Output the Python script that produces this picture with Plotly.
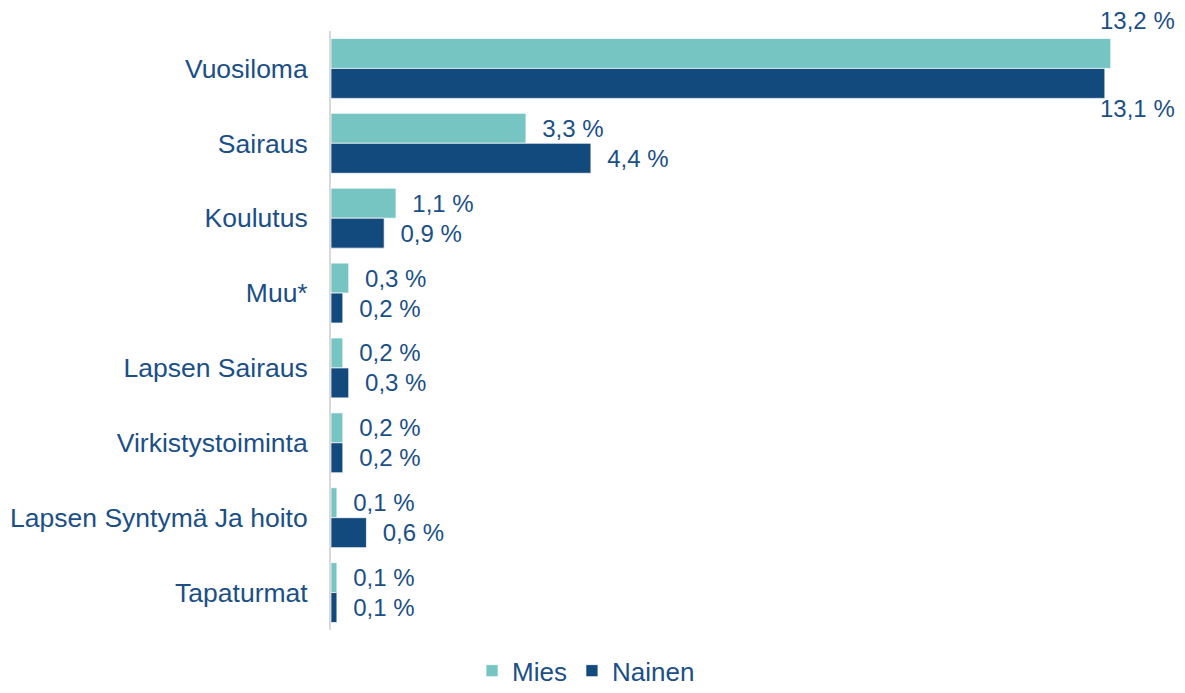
import plotly.graph_objects as go

categories = ["Vuosiloma", "Sairaus", "Koulutus", "Muu*", "Lapsen Sairaus",
              "Virkistystoiminta", "Lapsen Syntymä Ja hoito", "Tapaturmat"]
mies = [13.2, 3.3, 1.1, 0.3, 0.2, 0.2, 0.1, 0.1]
nainen = [13.1, 4.4, 0.9, 0.2, 0.3, 0.2, 0.6, 0.1]

C_MIES = "#76C5C3"
C_NAINEN = "#134A7E"
C_TEXT = "#1B4F86"
FONT = "Liberation Sans, Arial, sans-serif"

def fmt(v):
    return f"{v:.1f}".replace(".", ",") + " %"

def labels(vals):
    # first category labels are drawn as annotations (placed above/below)
    return [""] + ["\u00a0\u00a0" + fmt(v) for v in vals[1:]]

fig = go.Figure()
fig.add_trace(go.Bar(
    y=categories, x=mies, orientation="h", name="Mies",
    marker=dict(color=C_MIES, line=dict(color="rgba(255,255,255,0.7)", width=1)),
    text=labels(mies), textposition="outside", cliponaxis=False,
    textfont=dict(family=FONT, size=24, color=C_TEXT),
))
fig.add_trace(go.Bar(
    y=categories, x=nainen, orientation="h", name="Nainen",
    marker=dict(color=C_NAINEN, line=dict(color="rgba(255,255,255,0.7)", width=1)),
    text=labels(nainen), textposition="outside", cliponaxis=False,
    textfont=dict(family=FONT, size=24, color=C_TEXT),
))

fig.add_annotation(x=mies[0] - 0.22, y=categories[0], xref="x", yref="y",
                   text=fmt(mies[0]), showarrow=False, xanchor="left",
                   yshift=48, font=dict(family=FONT, size=24, color=C_TEXT))
fig.add_annotation(x=nainen[0] - 0.12, y=categories[0], xref="x", yref="y",
                   text=fmt(nainen[0]), showarrow=False, xanchor="left",
                   yshift=-40, font=dict(family=FONT, size=24, color=C_TEXT))

fig.update_layout(
    width=1169, height=677,
    margin=dict(l=323, r=19, t=23, b=55, autoexpand=False),
    paper_bgcolor="white", plot_bgcolor="white",
    barmode="group", bargap=0.2, bargroupgap=0,
    font=dict(family=FONT, size=26, color=C_TEXT),
    showlegend=True,
    legend=dict(orientation="h", x=0.3084, xanchor="center",
                yref="paper", y=-0.068, yanchor="middle",
                font=dict(family=FONT, size=26, color=C_TEXT),
                itemwidth=30, traceorder="normal"),
)
fig.update_xaxes(range=[0, 14], showgrid=False, zeroline=False,
                 showticklabels=False, showline=False, automargin=False)
fig.update_yaxes(range=[len(categories) - 0.5, -0.5], autorange=False,
                 showgrid=False, zeroline=False,
                 showline=True, linecolor="#D9D9D9", linewidth=2,
                 ticks="", ticklabelstandoff=16, automargin=False,
                 tickfont=dict(family=FONT, size=26.5, color=C_TEXT))

fig.write_html("out.html")
